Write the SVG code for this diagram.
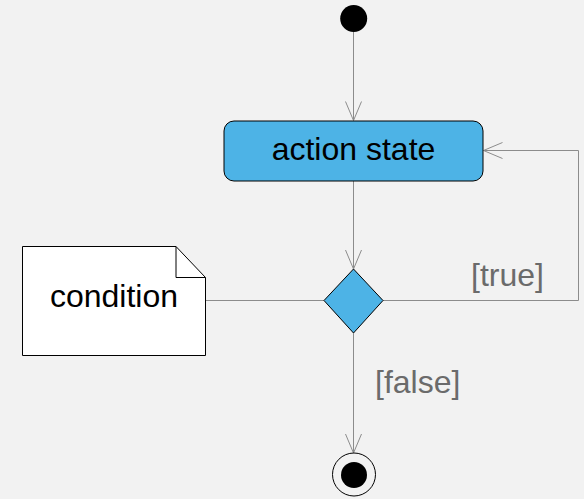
<svg xmlns="http://www.w3.org/2000/svg" width="584" height="499" viewBox="0 0 584 499">
<style>
.conn{fill:none;stroke:#8c8c8c;stroke-width:1}
.lbl{font-family:"Liberation Sans",Arial,sans-serif;font-size:32px}
.guard{fill:#6b6b6b}
</style>
<defs>
<marker id="open" markerWidth="22" markerHeight="18" refX="20" refY="9" orient="auto" markerUnits="userSpaceOnUse">
<path d="M1,1 L20,9 L1,17" fill="none" stroke="#8c8c8c" stroke-width="1"/>
</marker>
</defs>
<rect width="584" height="499" fill="#f2f2f2"/>
<g id="connectors">
<line class="conn" x1="353.5" y1="32" x2="353.5" y2="120.5" marker-end="url(#open)"/>
<line class="conn" x1="353.5" y1="181" x2="353.5" y2="269" marker-end="url(#open)"/>
<polyline class="conn" points="383,300.5 578.5,300.5 578.5,150.5 483.5,150.5" marker-end="url(#open)"/>
<line class="conn" x1="206" y1="300.5" x2="324" y2="300.5"/>
<line class="conn" x1="353.5" y1="333" x2="353.5" y2="453" marker-end="url(#open)"/>
<text class="lbl guard" x="471" y="286">[true]</text>
<text class="lbl guard" x="375" y="393">[false]</text>
</g>
<g id="start">
<circle cx="353.7" cy="18.5" r="13.5" fill="#000"/>
</g>
<g id="action">
<rect x="224" y="121" width="259" height="60" rx="10" ry="10" fill="#4db3e6" stroke="#000" stroke-width="1"/>
<text class="lbl" x="353.5" y="160" text-anchor="middle" fill="#000">action state</text>
</g>
<g id="decision">
<polygon points="353.5,269 383,300.5 353.5,333 324,300.5" fill="#4db3e6" stroke="#000" stroke-width="1"/>
</g>
<g id="note">
<path d="M22.5,246.5 L176,246.5 L205.5,277.5 L205.5,355.5 L22.5,355.5 Z" fill="#fff" stroke="#000" stroke-width="1"/>
<path d="M176,246.5 L176,277.5 L205.5,277.5" fill="none" stroke="#000" stroke-width="1"/>
<text class="lbl" x="114" y="306.5" text-anchor="middle" fill="#000">condition</text>
</g>
<g id="end">
<circle cx="354" cy="474.5" r="21.5" fill="none" stroke="#000" stroke-width="1"/>
<circle cx="354" cy="475" r="13" fill="#000"/>
</g>
</svg>
